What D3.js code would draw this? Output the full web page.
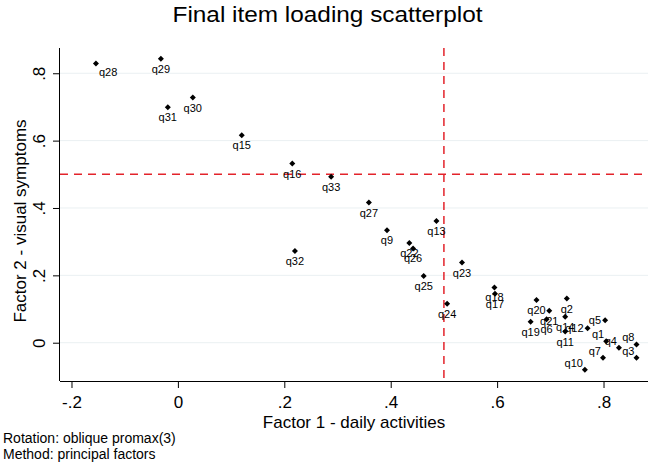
<!DOCTYPE html>
<html><head><meta charset="utf-8">
<script src="https://cdn.jsdelivr.net/npm/d3@7"></script>
<style>
body{margin:0;background:#fff}
svg{display:block}
text{font-family:"Liberation Sans",Arial,Helvetica,sans-serif;fill:#000}
</style>
</head><body><svg id="c" width="655" height="466"></svg>
<script>
// ---- data ----
const items   = ["q28","q29","q31","q30","q15","q16","q33","q27","q13","q9","q22","q26","q32","q23","q25","q24",
                 "q18","q17","q20","q2","q21","q6","q19","q14","q11","q12","q5","q1","q4","q8","q3","q7","q10"];
const factor1 = [-0.154,-0.032,-0.019,0.028,0.120,0.215,0.288,0.359,0.486,0.393,0.435,0.442,0.220,0.534,0.462,0.506,
                 0.595,0.596,0.674,0.731,0.698,0.693,0.663,0.728,0.728,0.770,0.803,0.805,0.829,0.862,0.862,0.799,0.765];
const factor2 = [0.829,0.843,0.699,0.728,0.616,0.532,0.493,0.416,0.361,0.334,0.296,0.280,0.272,0.238,0.198,0.116,
                 0.164,0.145,0.127,0.131,0.095,0.070,0.062,0.077,0.033,0.043,0.067,0.004,-0.015,-0.005,-0.045,-0.045,-0.080];
// marker-label clock positions
const labelClock = [5,6,6,6,6,6,6,6,6,6,6,6,6,6,6,6,
                    6,6,6,6,6,6,6,6,6,9,9,10,10,10,10,10,10];
const xTicks = [-0.2,0,0.2,0.4,0.6,0.8];
const xTickLabels = ["-.2","0",".2",".4",".6",".8"];
const yTicks = [0,0.2,0.4,0.6,0.8];
const yTickLabels = ["0",".2",".4",".6",".8"];
const xCut = 0.5, yCut = 0.5;
const titleText = "Final item loading scatterplot";
const xTitle = "Factor 1 - daily activities";
const yTitle = "Factor 2 - visual symptoms";
const notes = ["Rotation: oblique promax(3)","Method: principal factors"];

// ---- layout ----
const W=655,H=466;
const L=60,R=648,T=48,B=381;
const svg=d3.select("#c");
const x=d3.scaleLinear().domain([-0.2216,0.8836]).range([L,R]);
const y=d3.scaleLinear().domain([-0.1137,0.875]).range([B,T]);

// gridlines
svg.append("g").selectAll("line").data(yTicks).join("line")
  .attr("x1",L).attr("x2",R).attr("y1",d=>y(d)).attr("y2",d=>y(d))
  .attr("stroke","#eaf0f2").attr("stroke-width",1);

// cutoff lines
svg.append("line").attr("x1",L).attr("x2",R).attr("y1",y(yCut)).attr("y2",y(yCut))
  .attr("stroke","#e3232b").attr("stroke-width",1.5).attr("stroke-dasharray","8,6");
svg.append("line").attr("x1",x(xCut)).attr("x2",x(xCut)).attr("y1",T).attr("y2",B)
  .attr("stroke","#e3232b").attr("stroke-width",1.5).attr("stroke-dasharray","8,6");

// axes
const xa=svg.append("g").attr("transform",`translate(0,${B})`)
  .call(d3.axisBottom(x).tickValues(xTicks).tickSize(7).tickPadding(8)
        .tickFormat((d,i)=>xTickLabels[i]));
xa.select(".domain").attr("stroke","#000").attr("d",`M${L},0.5H${R}`);
xa.selectAll(".tick line").attr("stroke","#000");
xa.selectAll(".tick text").style("font-size","17px").attr("fill","#000");

const ya=svg.append("g").attr("transform",`translate(${L},0)`)
  .call(d3.axisLeft(y).tickValues(yTicks).tickSize(7).tickPadding(5)
        .tickFormat((d,i)=>yTickLabels[i]));
ya.select(".domain").attr("stroke","#000").attr("d",`M-0.5,${T}V${B}`);
ya.selectAll(".tick line").attr("stroke","#000");
ya.selectAll(".tick text").style("font-size","17px").attr("fill","#000")
  .attr("x",0).attr("dy",null)
  .attr("transform","translate(-21,0) rotate(-90)")
  .attr("text-anchor","middle").attr("dominant-baseline","central");

// points
const pts=items.map((n,i)=>({n,fx:factor1[i],fy:factor2[i],pos:labelClock[i]}));
const sym=d3.symbol().type(d3.symbolSquare).size(18);
svg.append("g").selectAll("path").data(pts).join("path")
  .attr("d",sym)
  .attr("transform",d=>`translate(${x(d.fx)},${y(d.fy)}) rotate(45)`)
  .attr("fill","#000");

// labels
svg.append("g").selectAll("text").data(pts).join("text")
  .text(d=>d.n)
  .style("font-size","11px")
  .attr("dominant-baseline","central")
  .attr("text-anchor",d=>d.pos===6?"middle":(d.pos===5?"start":"end"))
  .attr("x",d=>{const px=x(d.fx); return d.pos===6?px:(d.pos===5?px+3:(d.pos===9?px-4:px-2));})
  .attr("y",d=>{const py=y(d.fy); return d.pos===6?py+10:(d.pos===5?py+9:(d.pos===9?py:py-7));});

// titles
svg.append("text").attr("x",W/2).attr("y",22).attr("text-anchor","middle")
  .attr("textLength",310).attr("lengthAdjust","spacingAndGlyphs")
  .style("font-size","22px").attr("fill","#111").text(titleText);
svg.append("text").attr("x",(L+R)/2).attr("y",428).attr("text-anchor","middle")
  .style("font-size","17px").text(xTitle);
svg.append("text").attr("transform",`translate(26,221) rotate(-90)`).attr("text-anchor","middle")
  .style("font-size","17px").text(yTitle);
svg.append("g").selectAll("text").data(notes).join("text")
  .attr("x",3).attr("y",(d,i)=>443+i*16).style("font-size","14px").text(d=>d);
</script>
</body></html>
